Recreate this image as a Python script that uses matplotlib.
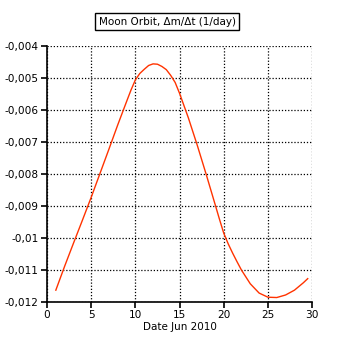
import matplotlib
matplotlib.use('Agg')
import matplotlib.pyplot as plt
from matplotlib.ticker import FuncFormatter

days = [1, 2, 3, 4, 5, 6, 7, 8, 9, 9.5, 10, 10.5, 11, 11.5, 12, 12.5,
        13, 13.5, 14, 14.5, 15, 16, 17, 18, 19, 19.5, 20, 20.5, 21, 21.5,
        22, 23, 24, 25, 26, 27, 28, 29, 29.5]
dm_dt = [-0.01163, -0.01088, -0.01016, -0.00945, -0.00873, -0.00798,
         -0.00723, -0.00647, -0.00574, -0.00538, -0.00506, -0.00486,
         -0.00473, -0.00461, -0.00456, -0.00457, -0.00464, -0.00474,
         -0.00492, -0.00514, -0.00548, -0.00625, -0.00710, -0.00800,
         -0.00893, -0.00940, -0.00985, -0.01018, -0.01047, -0.01074,
         -0.01100, -0.01143, -0.01172, -0.01185, -0.01186, -0.01178,
         -0.01163, -0.01140, -0.01127]

fig = plt.figure(figsize=(3.43, 3.43), dpi=100)
ax = fig.add_axes([0.137, 0.1195, 0.773, 0.7465])

ax.plot(days, dm_dt, color='#ff3300', lw=1)

ax.set_xlim(0, 30)
ax.set_ylim(-0.012, -0.004)
ax.set_xticks(range(0, 31, 5))
ax.set_yticks([-0.012, -0.011, -0.010, -0.009, -0.008, -0.007, -0.006, -0.005, -0.004])
ax.yaxis.set_major_formatter(FuncFormatter(lambda v, p: ('%g' % round(v, 4)).replace('.', ',')))

ax.grid(True, color='black', linestyle=(0, (1, 1.5)), lw=0.9)
for s in ['top', 'right']:
    ax.spines[s].set_visible(False)
for s in ['left', 'bottom']:
    ax.spines[s].set_linewidth(1.2)
ax.tick_params(direction='out', length=4, width=1.2, labelsize=7.6, pad=2)

ax.set_xlabel('Date Jun 2010', fontsize=7.5, labelpad=1)

fig.text(0.487, 0.937, 'Moon Orbit, \u0394m/\u0394t (1/day)', ha='center', va='center', fontsize=7.5,
         bbox=dict(boxstyle='square,pad=0.35', fc='white', ec='black', lw=1))

fig.savefig('out.png', dpi=100)
